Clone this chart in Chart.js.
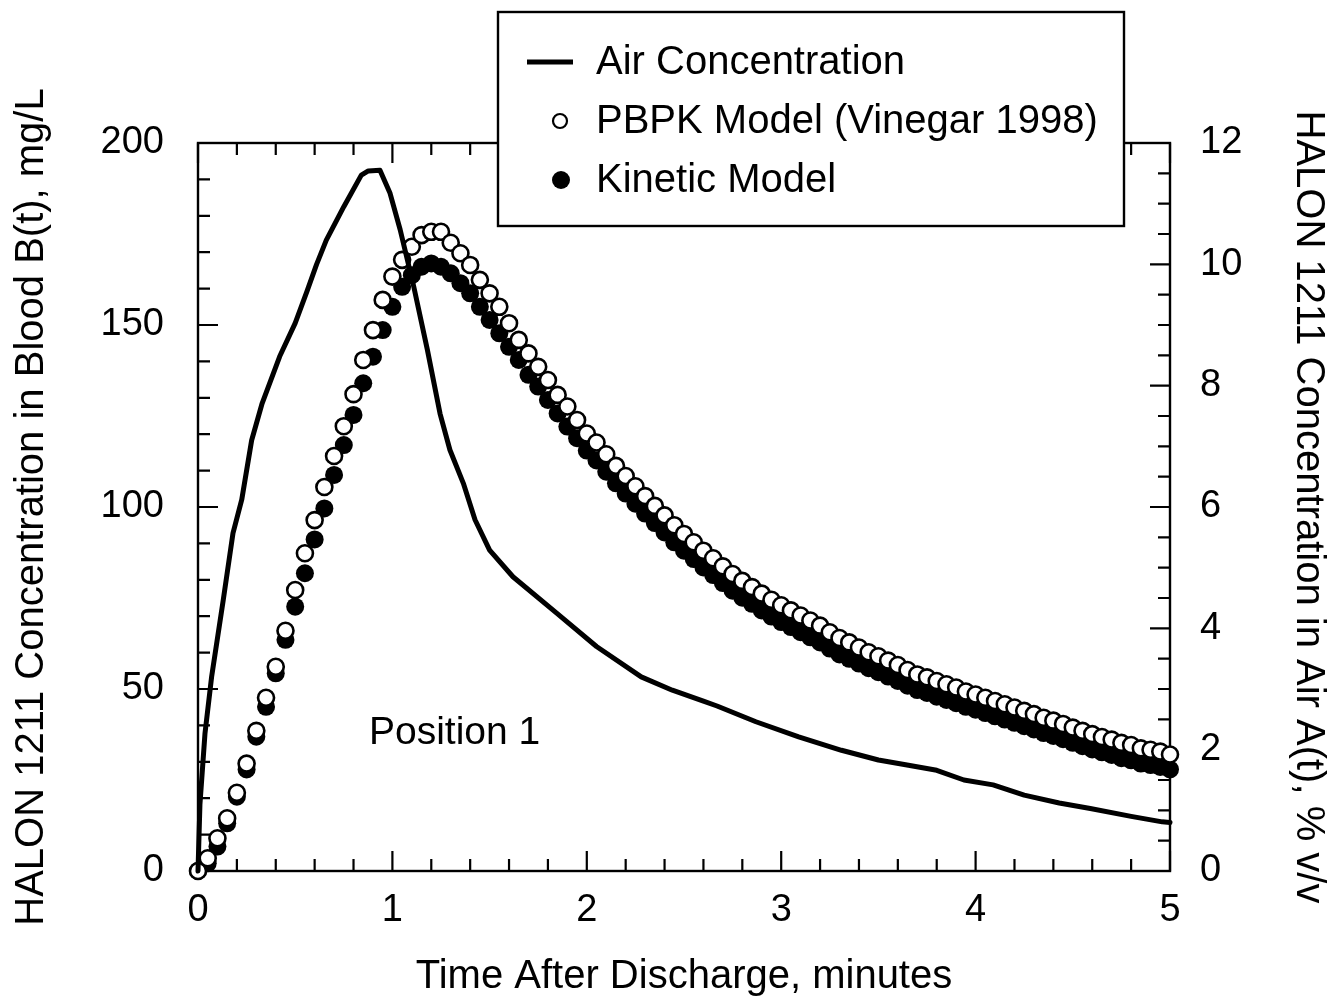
<!DOCTYPE html>
<html><head><meta charset="utf-8">
<script src="https://cdn.jsdelivr.net/npm/chart.js@4.4.1/dist/chart.umd.min.js"></script>
<style>html,body{margin:0;padding:0;background:#fff}#wrap{width:1332px;height:1001px}</style>
</head><body><div id="wrap"><canvas id="c" width="1332" height="1001"></canvas></div>
<script>
const FONT = '"Liberation Sans", Arial, Helvetica, sans-serif';

const timeModel = [
  0, 0.05, 0.1, 0.15, 0.2, 0.25, 0.3, 0.35, 0.4, 0.45,
  0.5, 0.55, 0.6, 0.65, 0.7, 0.75, 0.8, 0.85, 0.9, 0.95,
  1.0, 1.05, 1.1, 1.15, 1.2, 1.25, 1.3, 1.35, 1.4, 1.45,
  1.5, 1.55, 1.6, 1.65, 1.7, 1.75, 1.8, 1.85, 1.9, 1.95,
  2.0, 2.05, 2.1, 2.15, 2.2, 2.25, 2.3, 2.35, 2.4, 2.45,
  2.5, 2.55, 2.6, 2.65, 2.7, 2.75, 2.8, 2.85, 2.9, 2.95,
  3.0, 3.05, 3.1, 3.15, 3.2, 3.25, 3.3, 3.35, 3.4, 3.45,
  3.5, 3.55, 3.6, 3.65, 3.7, 3.75, 3.8, 3.85, 3.9, 3.95,
  4.0, 4.05, 4.1, 4.15, 4.2, 4.25, 4.3, 4.35, 4.4, 4.45,
  4.5, 4.55, 4.6, 4.65, 4.7, 4.75, 4.8, 4.85, 4.9, 4.95,
  5.0
];

const pbpkBlood = [
  0, 3.5, 9.0, 14.5, 21.5, 29.5, 38.5, 47.6, 56.1, 66.0,
  77.2, 87.3, 96.4, 105.5, 114.0, 122.2, 131.0, 140.4, 148.6, 156.9,
  163.3, 167.9, 171.5, 174.7, 175.6, 175.6, 172.6, 169.7, 166.5, 162.4,
  158.7, 155.0, 150.5, 145.9, 142.2, 138.5, 134.9, 130.8, 127.6, 123.9,
  120.2, 117.7, 114.5, 111.3, 108.5, 105.7, 103.0, 100.3, 97.7, 95.0,
  92.6, 90.3, 88.0, 85.9, 83.7, 81.6, 79.7, 78.0, 76.2, 74.5,
  73.0, 71.6, 70.2, 68.8, 67.4, 65.6, 64.0, 62.8, 61.4, 60.1,
  59.0, 57.8, 56.6, 55.2, 54.0, 53.2, 52.2, 51.3, 50.4, 49.3,
  48.5, 47.6, 46.7, 45.8, 44.9, 44.0, 43.1, 42.1, 41.3, 40.4,
  39.4, 38.5, 37.6, 36.8, 36.1, 35.2, 34.6, 33.7, 33.3, 32.8,
  32.0
];

const kineticBlood = [
  0, 2.1, 6.7, 13.1, 20.4, 27.9, 36.9, 45.1, 54.3, 63.5,
  72.6, 81.8, 91.1, 99.6, 108.8, 117.0, 125.3, 134.0, 141.3, 148.6,
  155.0, 160.5, 163.7, 166.0, 166.9, 166.0, 164.2, 161.5, 158.7, 155.0,
  151.4, 147.7, 144.0, 140.4, 136.3, 133.1, 129.4, 125.7, 122.1, 118.9,
  115.5, 112.8, 109.7, 106.5, 103.7, 100.9, 98.2, 95.6, 93.0, 90.3,
  88.0, 85.7, 83.4, 81.3, 79.1, 77.0, 75.1, 73.4, 71.6, 69.9,
  68.4, 67.0, 65.6, 64.2, 62.8, 61.1, 59.5, 58.3, 57.0, 55.7,
  54.6, 53.4, 52.2, 50.9, 49.7, 48.9, 47.9, 47.0, 46.1, 45.1,
  44.3, 43.4, 42.5, 41.6, 40.7, 39.8, 38.9, 37.9, 37.1, 36.2,
  35.2, 34.3, 33.4, 32.6, 31.9, 31.0, 30.4, 29.5, 29.1, 28.6,
  27.9
];

const airTime = [
  0, 0.01, 0.036, 0.07, 0.13, 0.18, 0.225, 0.276, 0.33, 0.42,
  0.50, 0.56, 0.61, 0.66, 0.75, 0.84, 0.876, 0.936, 0.988, 1.04, 1.11,
  1.18, 1.245, 1.296, 1.365, 1.425, 1.50, 1.62, 1.845, 2.05, 2.28,
  2.44, 2.60, 2.67, 2.87, 3.09, 3.31, 3.50, 3.64, 3.80, 3.94,
  4.09, 4.25, 4.43, 4.59, 4.80, 4.96, 5.0
];
const airConc = [
  0, 1.1, 2.27, 3.2, 4.47, 5.57, 6.12, 7.10, 7.71, 8.48,
  9.03, 9.55, 10.0, 10.4, 10.95, 11.47, 11.54, 11.55, 11.17, 10.57, 9.63,
  8.59, 7.54, 6.94, 6.39, 5.79, 5.29, 4.85, 4.25, 3.70, 3.20,
  2.98, 2.80, 2.72, 2.46, 2.21, 1.99, 1.83, 1.75, 1.66, 1.50,
  1.42, 1.25, 1.12, 1.03, 0.90, 0.81, 0.80
];

const xTickLabels = ['0', '1', '2', '3', '4', '5'];
const leftTickLabels = ['0', '50', '100', '150', '200'];
const rightTickLabels = ['0', '2', '4', '6', '8', '10', '12'];
const seriesNames = ['Air Concentration', 'PBPK Model (Vinegar 1998)', 'Kinetic Model'];
const xTitle = 'Time After Discharge, minutes';
const leftTitle = 'HALON 1211 Concentration in Blood B(t), mg/L';
const rightTitle = 'HALON 1211 Concentration in Air A(t), % v/v';
const noteText = 'Position 1';

const toXY = (xs, ys) => xs.map((x, i) => ({x: x, y: ys[i]}));

const framePlugin = {
  id: 'frameTicks',
  beforeDatasetsDraw(chart) {
    const ctx = chart.ctx, a = chart.chartArea;
    const xs = chart.scales.x, yl = chart.scales.y, yr = chart.scales.y2;
    ctx.save();
    ctx.strokeStyle = '#000';
    ctx.lineWidth = 2.4;
    ctx.strokeRect(a.left, a.top, a.right - a.left, a.bottom - a.top);
    ctx.lineWidth = 2.2;
    ctx.beginPath();
    for (let k = 0; k <= 25; k++) {
      const v = k / 5, px = xs.getPixelForValue(v);
      const len = (k % 5 === 0) ? 20 : 12;
      ctx.moveTo(px, a.bottom); ctx.lineTo(px, a.bottom - len);
      ctx.moveTo(px, a.top); ctx.lineTo(px, a.top + len);
    }
    for (let k = 0; k <= 20; k++) {
      const py = yl.getPixelForValue(k * 10);
      const len = (k % 5 === 0) ? 20 : 12;
      ctx.moveTo(a.left, py); ctx.lineTo(a.left + len, py);
    }
    for (let k = 0; k <= 24; k++) {
      const py = yr.getPixelForValue(k / 2);
      const len = (k % 4 === 0) ? 20 : 12;
      ctx.moveTo(a.right, py); ctx.lineTo(a.right - len, py);
    }
    ctx.stroke();
    ctx.restore();
  },
  afterDraw(chart) {
    const ctx = chart.ctx;
    const xs = chart.scales.x, yl = chart.scales.y;
    ctx.save();
    ctx.fillStyle = '#000';
    ctx.font = '39px ' + FONT;
    ctx.textAlign = 'center';
    ctx.textBaseline = 'middle';
    ctx.fillText(noteText, xs.getPixelForValue(1.32), yl.getPixelForValue(37.9));
    const bx = 498, by = 12, bw = 626, bh = 214;
    ctx.fillStyle = '#fff';
    ctx.fillRect(bx, by, bw, bh);
    ctx.strokeStyle = '#000';
    ctx.lineWidth = 2.4;
    ctx.strokeRect(bx, by, bw, bh);
    const rows = [62, 121, 180];
    const ds = chart.data.datasets;
    ctx.font = '40px ' + FONT;
    ctx.textAlign = 'left';
    ctx.textBaseline = 'middle';
    ctx.beginPath();
    ctx.lineWidth = ds[0].borderWidth;
    ctx.moveTo(527, rows[0]); ctx.lineTo(573, rows[0]);
    ctx.stroke();
    ctx.beginPath();
    ctx.arc(560, rows[1], 7, 0, Math.PI * 2);
    ctx.fillStyle = ds[1].pointBackgroundColor;
    ctx.fill();
    ctx.lineWidth = 2.2;
    ctx.strokeStyle = ds[1].pointBorderColor;
    ctx.stroke();
    ctx.beginPath();
    ctx.arc(561, rows[2], 9, 0, Math.PI * 2);
    ctx.fillStyle = ds[2].pointBackgroundColor;
    ctx.fill();
    ctx.fillStyle = '#000';
    for (let i = 0; i < 3; i++) ctx.fillText(seriesNames[i], 596, rows[i] + 1);
    ctx.restore();
  }
};

const tickFont = {family: FONT, size: 38};
const titleFont = {family: FONT, size: 40};

new Chart(document.getElementById('c'), {
  type: 'scatter',
  data: {
    datasets: [
      {
        label: seriesNames[0], data: toXY(airTime, airConc), yAxisID: 'y2',
        showLine: true, borderColor: '#000', borderWidth: 5, pointRadius: 0,
        pointHoverRadius: 0, tension: 0, fill: false, order: 0, clip: false,
        borderJoinStyle: 'round', borderCapStyle: 'round'
      },
      {
        label: seriesNames[1], data: toXY(timeModel, pbpkBlood), yAxisID: 'y',
        showLine: false, pointRadius: 8, pointBorderWidth: 2.6,
        pointBackgroundColor: '#fff', pointBorderColor: '#000',
        backgroundColor: '#fff', borderColor: '#000', order: 1, clip: false
      },
      {
        label: seriesNames[2], data: toXY(timeModel, kineticBlood), yAxisID: 'y',
        showLine: false, pointRadius: 9, pointBorderWidth: 0,
        pointBackgroundColor: '#000', pointBorderColor: '#000',
        backgroundColor: '#000', borderColor: '#000', order: 2, clip: false
      }
    ]
  },
  options: {
    responsive: false,
    animation: false,
    events: [],
    layout: {padding: {top: 143, left: 0, right: 0, bottom: 0}},
    plugins: {legend: {display: false}, tooltip: {enabled: false}},
    scales: {
      x: {
        type: 'linear', position: 'bottom', min: 0, max: 5,
        afterFit: s => { s.height = 130; },
        grid: {display: false, drawTicks: false},
        border: {display: false},
        ticks: {stepSize: 1, color: '#000', font: tickFont, padding: 17, maxRotation: 0,
          callback: (v, i) => xTickLabels[i]},
        title: {display: true, text: xTitle, color: '#000', font: titleFont, padding: {top: 0, bottom: 0}}
      },
      y: {
        type: 'linear', position: 'left', min: 0, max: 200,
        afterFit: s => { s.width = 198; },
        grid: {display: false, drawTicks: false},
        border: {display: false},
        ticks: {stepSize: 50, color: '#000', font: tickFont, padding: 34,
          callback: (v, i) => leftTickLabels[i]},
        title: {display: true, text: leftTitle, color: '#000', font: titleFont, padding: {top: 8, bottom: 0}}
      },
      y2: {
        type: 'linear', position: 'right', min: 0, max: 12,
        afterFit: s => { s.width = 162; },
        grid: {display: false, drawTicks: false},
        border: {display: false},
        ticks: {stepSize: 2, color: '#000', font: tickFont, padding: 30,
          callback: (v, i) => rightTickLabels[i]},
        title: {display: true, text: rightTitle, color: '#000', font: titleFont, padding: {top: 0, bottom: 0}}
      }
    }
  },
  plugins: [framePlugin]
});
</script>
</body></html>
